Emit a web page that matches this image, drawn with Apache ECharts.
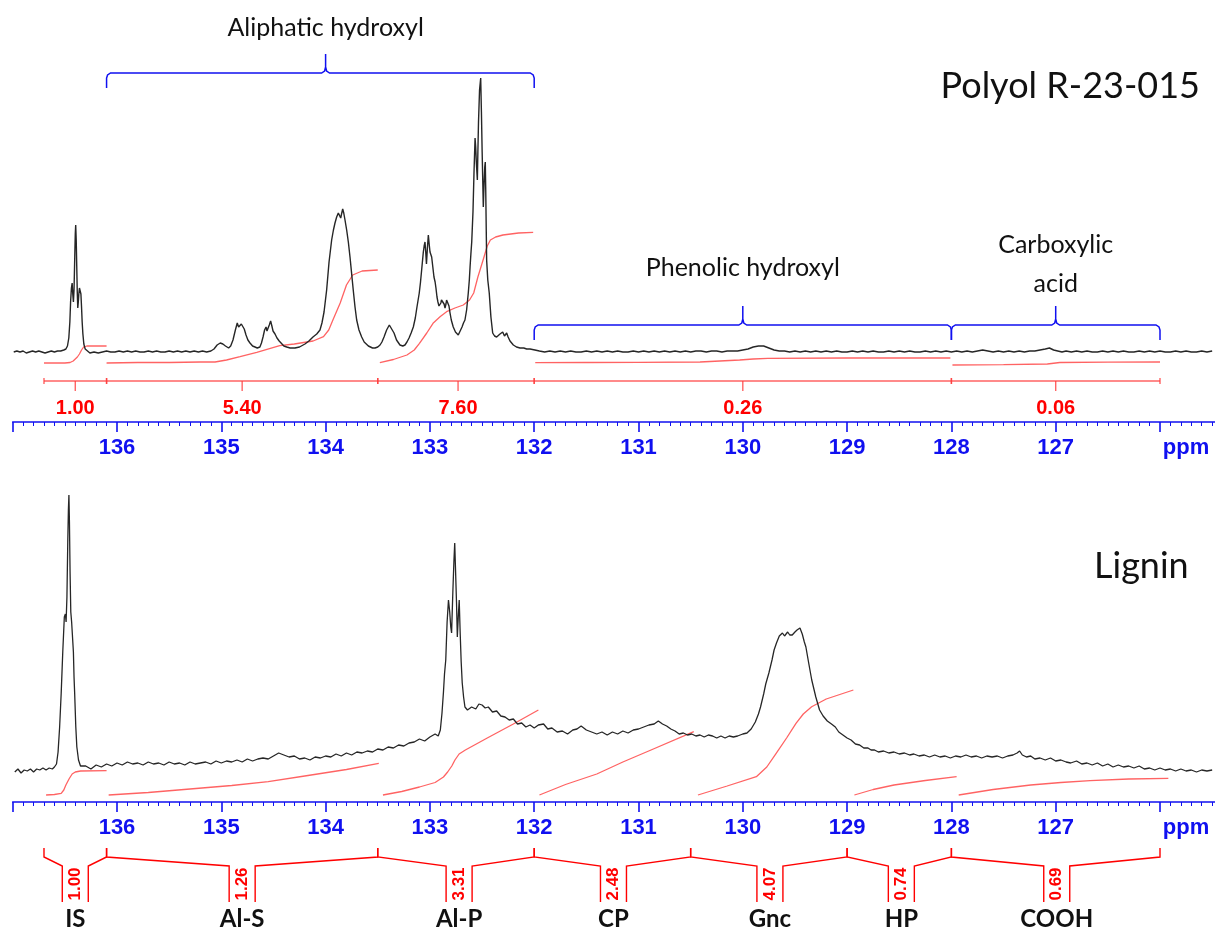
<!DOCTYPE html>
<html>
<head>
<meta charset="utf-8">
<title>31P NMR - Polyol R-23-015 / Lignin</title>
<script src="https://cdn.jsdelivr.net/npm/echarts@6/dist/echarts.min.js"></script>
<style>
  html, body { margin: 0; padding: 0; background: #fff; }
  #chart { width: 1215px; height: 935px; }
</style>
</head>
<body>
<div id="chart"></div>
<script>
// ---- data: [ppm, intensity above baseline] ----
const polyolSpectrum = [
  [136.99,0],[136.96,1],[136.93,0],[136.90,1],[136.87,-1],[136.84,0],[136.81,1],[136.78,0],[136.75,1],[136.72,0],
  [136.69,-1],[136.66,0],[136.63,1],[136.60,0],[136.57,1],[136.54,1],[136.51,2],
  [136.49,3],[136.475,6],[136.462,14],[136.452,30],[136.445,50],[136.437,64],[136.430,69],[136.424,58],[136.418,50],
  [136.412,62],[136.405,95],[136.400,118],[136.396,127],[136.391,112],[136.386,86],[136.381,60],[136.376,44],
  [136.371,50],[136.366,58],[136.360,64],[136.352,65],[136.346,58],[136.340,45],[136.334,30],[136.327,18],
  [136.318,8],[136.305,3],[136.29,1],
  [136.26,-1],[136.22,0],[136.18,-1],[136.14,0],[136.10,1],[136.06,0],[136.02,0],[135.98,1],[135.94,0],[135.90,1],
  [135.86,0],[135.82,1],[135.78,0],[135.74,0],[135.70,1],[135.66,0],[135.62,1],[135.58,0],[135.54,0],[135.50,1],
  [135.46,0],[135.42,1],[135.38,0],[135.34,1],[135.30,0],[135.26,1],[135.22,0],[135.18,1],[135.14,0],[135.10,1],
  [135.07,3],[135.04,7],[135.01,9],[134.985,8],[134.96,6],[134.93,4],[134.91,6],[134.888,12],[134.865,22],
  [134.847,29],[134.834,25],[134.821,24],[134.808,28],[134.795,29],[134.78,23],[134.763,17],[134.745,12],
  [134.725,9],[134.70,6],[134.677,5],[134.655,4],[134.63,5],[134.615,9],[134.60,15],[134.585,22],[134.571,25],
  [134.562,21],[134.552,20],[134.54,27],[134.527,31],[134.515,26],[134.504,21],[134.495,20],[134.485,18],
  [134.466,14],[134.445,11],[134.428,9],[134.40,6],[134.373,5],[134.34,4],[134.294,4],[134.25,5],[134.198,8],
  [134.16,11],[134.121,15],[134.085,18],[134.054,22],[134.035,29],[134.015,40],[133.990,62],[133.967,90],
  [133.942,112],[133.925,122],[133.910,129],[133.894,135],[133.878,139],[133.866,137],[133.855,134],[133.845,139],
  [133.836,143],[133.826,139],[133.814,132],[133.798,122],[133.782,110],[133.766,95],[133.750,78],[133.735,62],
  [133.718,45],[133.702,32],[133.68,22],[133.654,15],[133.63,10],[133.613,8],[133.59,6],[133.574,5],[133.55,4],
  [133.526,4],[133.50,5],[133.478,7],[133.46,10],[133.44,15],[133.415,22],[133.389,27],[133.37,25],[133.344,19],
  [133.32,12],[133.287,7],[133.26,6],[133.239,7],[133.22,10],[133.200,14],[133.18,19],[133.159,25],[133.14,34],
  [133.124,45],[133.102,59],[133.090,70],[133.081,80],[133.063,100],[133.055,106],[133.047,110],[133.040,100],
  [133.033,88],[133.024,104],[133.015,117],[133.007,108],[132.999,100],[132.990,98],[132.983,95],[132.972,85],
  [132.961,75],[132.950,70],[132.942,64],[132.932,55],[132.923,50],[132.913,46],[132.903,45],[132.895,49],
  [132.889,52],[132.880,54],[132.872,54],[132.864,48],[132.855,44],[132.846,48],[132.840,52],[132.833,54],
  [132.825,50],[132.817,46],[132.807,39],[132.795,32],[132.776,25],[132.755,20],[132.728,17],[132.71,19],
  [132.692,25],[132.678,29],[132.664,32],[132.648,42],[132.632,59],[132.622,72],[132.615,85],[132.607,98],
  [132.599,110],[132.593,125],[132.587,140],[132.577,180],[132.567,214],[132.561,205],[132.555,190],[132.545,172],
  [132.540,200],[132.534,230],[132.524,262],[132.513,274],[132.506,240],[132.499,200],[132.493,170],[132.488,145],
  [132.484,158],[132.479,172],[132.474,185],[132.469,190],[132.465,165],[132.462,140],[132.456,92],[132.445,72],
  [132.431,59],[132.415,35],[132.398,19],[132.38,16],[132.360,15],[132.345,16],[132.328,18],[132.315,19],
  [132.302,20],[132.294,18],[132.285,16],[132.275,18],[132.264,19],[132.25,15],[132.232,11],[132.215,9],
  [132.200,7],[132.17,5],[132.136,4],[132.10,4],[132.072,3],[132.04,3],[131.993,2],
  [131.95,1],[131.90,0],[131.85,1],[131.80,0],[131.75,1],[131.70,0],[131.65,1],[131.60,0],[131.55,0],[131.50,1],
  [131.45,0],[131.40,1],[131.35,0],[131.30,1],[131.25,0],[131.20,1],[131.15,0],[131.10,0],[131.05,1],[131.00,0],
  [130.95,1],[130.90,0],[130.85,1],[130.80,0],[130.75,1],[130.70,0],[130.65,1],[130.60,0],[130.55,1],[130.50,0],
  [130.45,1],[130.40,1],[130.35,0],[130.30,1],[130.25,1],[130.20,0],[130.15,1],[130.10,1],[130.05,1],[130.00,2],
  [129.95,3],[129.90,5],[129.85,6],[129.80,6],[129.75,4],[129.70,2],[129.65,1],[129.60,1],[129.55,0],[129.50,1],
  [129.45,0],[129.40,1],[129.35,0],[129.30,1],[129.25,0],[129.20,1],[129.15,0],[129.10,1],[129.05,0],[129.00,0],
  [128.95,1],[128.90,0],[128.85,1],[128.80,0],[128.75,1],[128.70,0],[128.65,0],[128.60,1],[128.55,0],[128.50,1],
  [128.45,0],[128.40,1],[128.35,0],[128.30,0],[128.25,1],[128.20,0],[128.15,1],[128.10,0],[128.05,1],[128.00,0],
  [127.95,1],[127.90,0],[127.85,1],[127.80,0],[127.75,1],[127.70,2],[127.65,1],[127.60,0],[127.55,1],[127.50,0],
  [127.45,1],[127.40,0],[127.35,1],[127.30,0],[127.25,1],[127.20,1],[127.15,2],[127.10,3],[127.06,4],[127.02,2],
  [126.98,1],[126.94,0],[126.90,1],[126.85,0],[126.80,1],[126.75,0],[126.70,1],[126.65,0],[126.60,0],[126.55,1],
  [126.50,0],[126.45,1],[126.40,0],[126.35,1],[126.30,0],[126.25,0],[126.20,1],[126.15,0],[126.10,1],[126.05,0],
  [126.00,1],[125.95,0],[125.90,0],[125.85,1],[125.80,0],[125.75,1],[125.70,0],[125.65,0],[125.60,1],[125.55,0],
  [125.50,1]
];

// integral traces (same units, negative = below baseline)
const polyolIntIS = [[136.70,-11],[136.60,-11],[136.50,-11],[136.45,-10.5],[136.42,-9],[136.40,-7],[136.38,-5],[136.36,-2],[136.34,2],[136.32,5],[136.29,6],[136.20,6],[136.10,6]];
const polyolIntAlS = [[136.10,-11],[135.80,-10.5],[135.50,-10.5],[135.20,-10],[135.06,-10],[134.95,-8],[134.82,-4.7],[134.66,-0.3],[134.44,6.3],[134.30,8],[134.12,11],[134.02,15.3],[133.97,22],[133.93,32],[133.86,49],[133.80,67],[133.74,77],[133.65,81],[133.50,82]];
const polyolIntAlP = [[133.48,-10.7],[133.35,-7.5],[133.22,-3],[133.15,2],[133.10,8.7],[133.03,19],[132.97,28.7],[132.90,35.5],[132.84,40.3],[132.76,44],[132.68,47],[132.62,52],[132.58,59],[132.54,75],[132.49,92],[132.45,106],[132.42,112],[132.37,115],[132.30,117],[132.15,119],[132.01,119.7]];
const polyolIntPhen = [[131.99,-10.7],[131.50,-10.5],[131.00,-10.3],[130.41,-10],[130.03,-8],[129.90,-7],[129.76,-6.3],[129.00,-6],[128.01,-6]];
const polyolIntCOOH = [[127.99,-13],[127.50,-12.7],[127.08,-12],[126.96,-10.5],[126.50,-10.2],[126.00,-10]];

const polyolEdges = [136.7, 136.1, 133.5, 132.0, 128.0, 126.0];
const polyolCenters = [136.4, 134.8, 132.73, 130.0, 127.0];
const polyolValues = ['1.00', '5.40', '7.60', '0.26', '0.06'];

const groupStart = [136.1, 132.0, 128.0];
const groupEnd = [132.0, 128.0, 126.0];
const groupTip = [134.0, 130.0, 127.0];
const groupNames = ['Aliphatic hydroxyl', 'Phenolic hydroxyl', 'Carboxylic\nacid'];

const ligninSpectrum = [
  [136.98,0],[136.95,3],[136.92,-1],[136.89,2],[136.86,1],[136.83,3],[136.80,0],[136.77,3],[136.74,2],[136.71,4],
  [136.68,2],[136.65,4],[136.62,3],[136.60,5],[136.58,8],
  [136.565,20],[136.55,45],[136.535,79],[136.52,120],[136.505,155],[136.495,158],[136.488,150],[136.48,175],
  [136.472,230],[136.466,262],[136.461,277],[136.456,250],[136.45,200],[136.443,160],[136.435,150],[136.428,152],
  [136.425,150],[136.418,120],[136.412,95],[136.406,79],[136.395,45],[136.385,25],[136.369,12],[136.35,6],[136.333,4],
  [136.30,6],[136.25,3],[136.20,7],[136.15,5],[136.10,8],[136.05,6],[136.00,9],[135.95,7],[135.90,10],[135.85,8],
  [135.80,9],[135.75,7],[135.70,10],[135.65,8],[135.60,9],[135.55,7],[135.50,10],[135.45,8],[135.40,9],[135.35,7],
  [135.30,10],[135.25,8],[135.20,9],[135.15,10],[135.10,8],[135.05,11],[135.00,9],[134.95,11],[134.90,10],[134.85,12],
  [134.80,10],[134.75,13],[134.70,11],[134.65,13],[134.60,14],[134.55,13],[134.50,16],[134.45,19],[134.40,17],[134.35,15],
  [134.30,16],[134.25,13],[134.20,14],[134.15,12],[134.10,15],[134.05,14],[134.00,16],[133.95,15],[133.90,18],[133.85,16],
  [133.80,19],[133.75,17],[133.70,20],[133.65,19],[133.60,21],[133.55,20],[133.50,23],[133.45,22],[133.40,25],[133.35,24],
  [133.30,27],[133.25,26],[133.20,29],[133.15,30],[133.10,33],[133.05,31],[133.00,35],[132.95,38],[132.92,36],[132.90,42],
  [132.884,59],[132.87,80],[132.86,98],[132.848,112],[132.835,150],[132.822,172],[132.81,160],[132.80,145],[132.792,139],
  [132.78,180],[132.77,210],[132.762,229],[132.755,205],[132.745,170],[132.737,135],[132.728,155],[132.719,172],
  [132.71,140],[132.70,110],[132.690,89],[132.677,75],[132.664,65],
  [132.64,62],[132.60,65],[132.56,63],[132.53,68],[132.50,67],[132.47,64],[132.44,65],[132.40,60],[132.36,61],[132.32,56],
  [132.28,55],[132.24,52],[132.20,53],[132.16,48],[132.12,49],[132.08,45],[132.04,47],[132.00,44],[131.96,47],[131.91,48],
  [131.87,43],[131.83,44],[131.78,40],[131.73,41],[131.68,38],[131.63,42],[131.59,43],[131.55,46],[131.50,42],[131.45,40],
  [131.40,38],[131.35,40],[131.30,37],[131.25,40],[131.20,38],[131.15,41],[131.10,39],[131.05,42],[131.00,43],[130.95,45],
  [130.90,47],[130.85,48],[130.81,51],[130.77,48],[130.73,46],[130.69,43],[130.65,41],[130.61,38],[130.57,39],[130.53,37],
  [130.49,38],[130.45,36],[130.41,37],[130.37,35],[130.33,37],[130.29,36],[130.25,34],[130.21,36],[130.17,34],[130.13,36],
  [130.09,35],[130.05,36],[130.00,38],[129.96,39],[129.92,43],[129.88,50],[129.85,58],[129.83,65],[129.80,78],[129.78,88],
  [129.75,99],[129.72,112],[129.70,122],[129.677,129],[129.65,136],[129.62,139],[129.60,136],[129.57,140],[129.55,137],
  [129.526,137],[129.50,140],[129.48,142],[129.452,144],[129.43,138],[129.41,130],[129.395,125],[129.37,110],[129.339,92],
  [129.30,75],[129.264,62],[129.23,56],[129.19,51],[129.15,48],[129.113,45],[129.08,40],[129.04,37],[129.00,34],[128.962,32],
  [128.92,28],[128.88,27],[128.84,24],[128.80,24],[128.77,22],[128.737,22],[128.70,20],[128.65,21],[128.60,19],[128.55,20],
  [128.50,18],[128.45,19],[128.40,17],[128.36,18],[128.31,16],[128.26,17],[128.21,15],[128.16,17],[128.11,15],[128.06,16],
  [128.01,14],[127.96,16],[127.91,15],[127.86,17],[127.81,15],[127.76,16],[127.71,14],[127.66,16],[127.61,15],[127.56,16],
  [127.51,14],[127.46,16],[127.41,17],[127.37,19],[127.346,21],[127.32,17],[127.28,15],[127.24,16],[127.20,13],[127.15,14],
  [127.10,12],[127.05,14],[127.00,11],[126.95,12],[126.90,10],[126.857,9],[126.80,11],[126.75,8],[126.70,9],[126.65,7],
  [126.60,9],[126.55,6],[126.50,8],[126.45,5],[126.40,7],[126.35,5],[126.30,6],[126.25,4],[126.20,6],[126.15,3],
  [126.10,4],[126.05,2],[126.00,4],[125.95,2],[125.90,3],[125.85,1],[125.80,3],[125.75,1],[125.70,2],[125.65,0],
  [125.60,2],[125.55,1],[125.50,2]
];

const ligninIntIS = [[136.68,-23],[136.60,-22.5],[136.535,-21.3],[136.51,-18],[136.49,-13],[136.46,-7],[136.43,-2],[136.40,0],[136.35,1],[136.10,1.3]];
const ligninIntAlS = [[136.08,-23],[135.70,-20.5],[135.30,-17],[134.90,-13.5],[134.55,-9.7],[134.20,-4],[133.80,2.5],[133.49,8.7]];
const ligninIntAlP = [[133.45,-23],[133.27,-19.5],[133.10,-15],[132.95,-10.5],[132.87,-5],[132.83,0],[132.79,6],[132.76,12],[132.72,18],[132.66,22],[132.45,34],[132.20,48],[131.96,62]];
const ligninIntCP = [[131.95,-23],[131.70,-12.5],[131.40,-2],[131.15,10],[130.88,22],[130.47,40.3]];
const ligninIntGnc = [[130.43,-23],[130.15,-14],[129.87,-4.7],[129.77,5],[129.68,18.7],[129.58,34],[129.49,48.7],[129.42,58],[129.34,65.3],[129.20,73],[128.94,82]];
const ligninIntHP = [[128.93,-23],[128.75,-17.5],[128.55,-13],[128.25,-8.5],[127.95,-4.7]];
const ligninIntCOOH = [[127.93,-23],[127.60,-17.5],[127.24,-13],[126.95,-10.5],[126.67,-8.7],[126.30,-7],[125.92,-6.3]];

const ligninEdges = [136.7, 136.1, 133.5, 132.0, 130.5, 129.0, 128.0, 126.0];
const ligninCenters = [136.4, 134.8, 132.72, 131.24, 129.74, 128.48, 126.99];
const ligninValues = ['1.00', '1.26', '3.31', '2.48', '4.07', '0.74', '0.69'];
const ligninNames = ['IS', 'Al-S', 'Al-P', 'CP', 'Gnc', 'HP', 'COOH'];

const ppmMin = 125, ppmMax = 137;

// ---- styles ----
const BLUE = '#1010f0';
const RED = '#ff0000';
const INT_RED = 'rgba(255,60,60,0.8)';
const ARIAL = '"Liberation Sans", Arial, sans-serif';
const CALIBRI = 'Lato, "Open Sans", sans-serif';

const chart = echarts.init(document.getElementById('chart'), null, { renderer: 'canvas' });

function ppmAxis(gridIndex) {
  return {
    type: 'value', gridIndex: gridIndex, min: ppmMin, max: ppmMax, interval: 1, inverse: true,
    axisLine: { show: true, onZero: false, lineStyle: { color: BLUE, width: 1.6 } },
    axisTick: { show: true, length: 10, lineStyle: { color: BLUE, width: 1.6 } },
    minorTick: { show: true, splitNumber: 10, length: 4, lineStyle: { color: BLUE, width: 1 } },
    splitLine: { show: false },
    axisLabel: {
      margin: 15, color: BLUE, fontFamily: ARIAL, fontWeight: 'bold', fontSize: 22,
      showMinLabel: true, showMaxLabel: true,
      formatter: function (v) {
        if (v === 126) return '{u|ppm}';
        if (v >= 137 || v <= 125) return '';
        return String(v);
      },
      rich: { u: { color: BLUE, fontFamily: ARIAL, fontWeight: 'bold', fontSize: 22, padding: [0, 0, 0, 52] } }
    }
  };
}

function hiddenY(gridIndex, min, max) {
  return { type: 'value', gridIndex: gridIndex, min: min, max: max, show: false };
}

function trace(data, gi, color, width, z) {
  return {
    type: 'line', xAxisIndex: gi, yAxisIndex: gi, data: data, showSymbol: false, symbol: 'none',
    lineStyle: { color: color, width: width }, silent: true, z: z, animation: false
  };
}

// red integration ranges of the polyol panel
function renderPolyolRanges(params, api) {
  const i = params.dataIndex;
  const a = api.coord([polyolEdges[i], -29]);
  const b = api.coord([polyolEdges[i + 1], -29]);
  const c = api.coord([polyolCenters[i], -29]);
  const t = api.coord([polyolCenters[i], -56]);
  const st = { stroke: INT_RED, lineWidth: 1.4 };
  return {
    type: 'group', children: [
      { type: 'line', shape: { x1: a[0], y1: a[1], x2: b[0], y2: b[1] }, style: st },
      { type: 'line', shape: { x1: a[0], y1: a[1] - 3, x2: a[0], y2: a[1] + 3 }, style: st },
      { type: 'line', shape: { x1: b[0], y1: b[1] - 3, x2: b[0], y2: b[1] + 3 }, style: st },
      { type: 'line', shape: { x1: c[0], y1: c[1], x2: c[0], y2: c[1] + 10 }, style: st },
      { type: 'text', x: t[0], y: t[1], style: { text: polyolValues[i], fill: RED, font: 'bold 20px ' + ARIAL, align: 'center', verticalAlign: 'middle' } }
    ]
  };
}

// blue group braces + captions
const braceLevel = [279, 27, 27];
const captionLift = [45, 57, 61];
function renderBraces(params, api) {
  const i = params.dataIndex;
  const a = api.coord([groupStart[i], braceLevel[i]]);
  const b = api.coord([groupEnd[i], braceLevel[i]]);
  const t = api.coord([groupTip[i], braceLevel[i]]);
  const y = a[1], xa = a[0], xb = b[0], xt = t[0];
  const pts = [
    [xa, y + 15], [xa, y + 5], [xa + 1, y + 2], [xa + 4, y], [xt - 4, y], [xt - 1, y - 2], [xt, y - 6], [xt, y - 19],
    [xt, y - 6], [xt + 1, y - 2], [xt + 4, y], [xb - 4, y], [xb - 1, y + 2], [xb, y + 5], [xb, y + 15]
  ];
  return {
    type: 'group', children: [
      { type: 'polyline', shape: { points: pts }, style: { stroke: BLUE, lineWidth: 1.5, fill: 'none' } },
      { type: 'text', x: xt, y: y - captionLift[i], style: { text: groupNames[i], fill: '#111', font: '25px ' + CALIBRI, align: 'center', verticalAlign: 'middle', lineHeight: 39 } }
    ]
  };
}

// red integration brackets under the lignin axis
function renderLigninRanges(params, api) {
  const i = params.dataIndex;
  const a = api.coord([ligninEdges[i], -85]);
  const b = api.coord([ligninEdges[i + 1], -85]);
  const c = api.coord([ligninCenters[i], -94]);
  const yTop = api.coord([ligninEdges[i], -76])[1];
  const yBot = api.coord([ligninCenters[i], -130])[1];
  const yVal = api.coord([ligninCenters[i], -112])[1];
  const yName = api.coord([ligninCenters[i], -147])[1];
  const half = 13;
  const st = { stroke: RED, lineWidth: 1.4, fill: 'none' };
  return {
    type: 'group', children: [
      { type: 'polyline', shape: { points: [[a[0], yTop], [a[0], a[1]], [c[0] - half, c[1]], [c[0] - half, yBot]] }, style: st },
      { type: 'polyline', shape: { points: [[b[0], yTop], [b[0], b[1]], [c[0] + half, c[1]], [c[0] + half, yBot]] }, style: st },
      { type: 'text', x: c[0], y: yVal, rotation: Math.PI / 2, style: { text: ligninValues[i], fill: RED, font: 'bold 17px ' + ARIAL, align: 'center', verticalAlign: 'middle' } },
      { type: 'text', x: c[0], y: yName, style: { text: ligninNames[i], fill: '#111', font: 'bold 24px ' + CALIBRI, align: 'center', verticalAlign: 'middle' } }
    ]
  };
}

const option = {
  backgroundColor: '#fff',
  animation: false,
  grid: [
    { left: 12.7, top: 0, width: 1251.6, height: 422, containLabel: false, outerBoundsMode: 'none' },
    { left: 12.7, top: 450, width: 1251.6, height: 352, containLabel: false, outerBoundsMode: 'none' }
  ],
  xAxis: [ppmAxis(0), ppmAxis(1)],
  yAxis: [hiddenY(0, -70, 352), hiddenY(1, -30, 322)],
  graphic: [
    { type: 'text', right: 15, top: 68, style: { text: 'Polyol R-23-015', font: '36px ' + CALIBRI, fill: '#111' } },
    { type: 'text', left: 1094, top: 548, style: { text: 'Lignin', font: '36px ' + CALIBRI, fill: '#111' } }
  ],
  series: [
    trace(polyolSpectrum, 0, '#262626', 1.4, 5),
    trace(polyolIntIS, 0, INT_RED, 1.3, 4),
    trace(polyolIntAlS, 0, INT_RED, 1.3, 4),
    trace(polyolIntAlP, 0, INT_RED, 1.3, 4),
    trace(polyolIntPhen, 0, INT_RED, 1.3, 4),
    trace(polyolIntCOOH, 0, INT_RED, 1.3, 4),
    {
      type: 'custom', xAxisIndex: 0, yAxisIndex: 0, silent: true, renderItem: renderPolyolRanges,
      data: polyolCenters.map(function (c) { return [c, 0]; })
    },
    {
      type: 'custom', xAxisIndex: 0, yAxisIndex: 0, silent: true, renderItem: renderBraces,
      data: groupTip.map(function (c) { return [c, 0]; })
    },
    trace(ligninSpectrum, 1, '#262626', 1.3, 5),
    trace(ligninIntIS, 1, INT_RED, 1.3, 4),
    trace(ligninIntAlS, 1, INT_RED, 1.3, 4),
    trace(ligninIntAlP, 1, INT_RED, 1.3, 4),
    trace(ligninIntCP, 1, INT_RED, 1.3, 4),
    trace(ligninIntGnc, 1, INT_RED, 1.3, 4),
    trace(ligninIntHP, 1, INT_RED, 1.3, 4),
    trace(ligninIntCOOH, 1, INT_RED, 1.3, 4),
    {
      type: 'custom', xAxisIndex: 1, yAxisIndex: 1, silent: true, clip: false, renderItem: renderLigninRanges,
      data: ligninCenters.map(function (c) { return [c, 0]; })
    }
  ]
};

chart.setOption(option);
</script>
</body>
</html>
